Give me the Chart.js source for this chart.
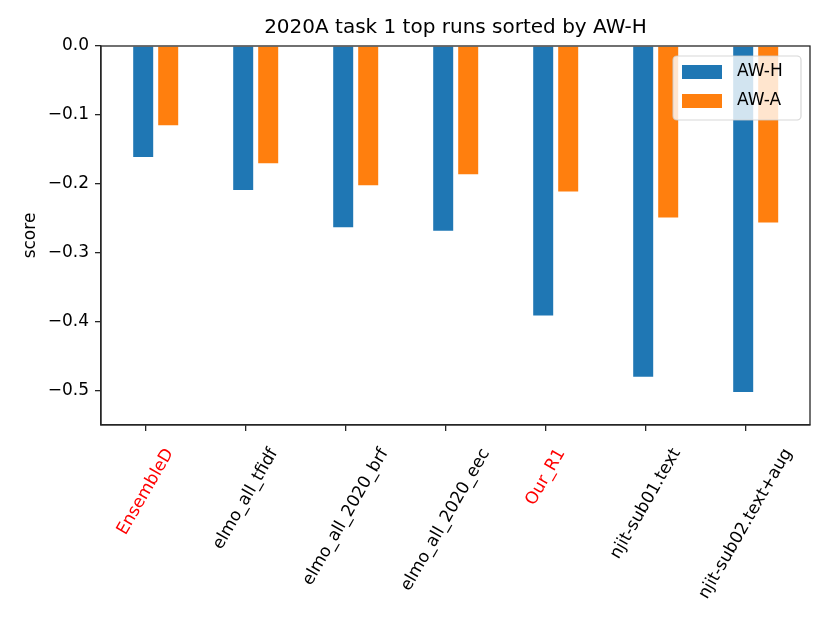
<!DOCTYPE html>
<html>
<head>
<meta charset="utf-8">
<script src="https://cdn.jsdelivr.net/npm/chart.js@4/dist/chart.umd.min.js"></script>
<style>
  body { margin: 0; background: #fff; }
  #wrap { width: 830px; height: 623px; }
</style>
</head>
<body>
<div id="wrap"><canvas id="runsChart" width="830" height="623"></canvas></div>
<script>
// ---------- data ----------
const categories = ['EnsembleD', 'elmo_all_tfidf', 'elmo_all_2020_brf', 'elmo_all_2020_eec',
                    'Our_R1', 'njit-sub01.text', 'njit-sub02.text+aug'];
const awH = [-0.161, -0.209, -0.263, -0.268, -0.391, -0.480, -0.502];
const awA = [-0.115, -0.170, -0.202, -0.186, -0.211, -0.249, -0.256];
const redCats = ['EnsembleD', 'Our_R1'];
const yTicks = [0.0, -0.1, -0.2, -0.3, -0.4, -0.5];
const yMin = -0.55, yMax = 0;
const xMin = -0.447, xMax = 6.643;
const groupShift = 0.1;

const FONT = 'DejaVu Sans';
const BLUE = '#1f77b4', ORANGE = '#ff7f0e';
const AXIS = '#262626';

// ---------- plugins ----------
// title centred over the plot area like matplotlib
const centerTitle = {
  id: 'centerTitle',
  afterLayout(chart) {
    const t = chart.titleBlock, a = chart.chartArea;
    if (!t) return;
    t.left = a.left; t.right = a.right; t.width = a.right - a.left;
  }
};

// top + right spines
const frame = {
  id: 'frame',
  afterDatasetsDraw(chart) {
    const {ctx, chartArea: a} = chart;
    ctx.save();
    ctx.strokeStyle = AXIS;
    ctx.lineWidth = 1.3;
    ctx.strokeRect(a.left, a.top, a.right - a.left, a.bottom - a.top);
    ctx.restore();
  }
};

// legend box in the upper right corner
const boxLegend = {
  id: 'boxLegend',
  afterDraw(chart) {
    const {ctx, chartArea: a} = chart;
    const sets = chart.data.datasets;
    const w = 128, h = 64;
    const x0 = a.right - 9 - w, y0 = a.top + 10;
    ctx.save();
    ctx.beginPath();
    ctx.roundRect(x0, y0, w, h, 4);
    ctx.fillStyle = 'rgba(255,255,255,0.8)';
    ctx.fill();
    ctx.strokeStyle = 'rgba(204,204,204,0.8)';
    ctx.lineWidth = 1.2;
    ctx.stroke();
    ctx.font = '17px "' + FONT + '"';
    ctx.textBaseline = 'middle';
    sets.forEach((ds, i) => {
      const cy = y0 + 16 + i * 29;
      ctx.fillStyle = ds.backgroundColor;
      ctx.fillRect(x0 + 9, cy - 7, 40, 14);
      ctx.fillStyle = '#000';
      ctx.fillText(ds.label, x0 + 64, cy);
    });
    ctx.restore();
  }
};

// ---------- chart ----------
const ctx = document.getElementById('runsChart').getContext('2d');

new Chart(ctx, {
  type: 'bar',
  data: {
    datasets: [
      { label: 'AW-H', data: categories.map((c, i) => ({x: i + groupShift, y: awH[i]})), backgroundColor: BLUE },
      { label: 'AW-A', data: categories.map((c, i) => ({x: i + groupShift, y: awA[i]})), backgroundColor: ORANGE }
    ]
  },
  options: {
    responsive: false,
    animation: false,
    devicePixelRatio: 1,
    categoryPercentage: 0.5,
    barPercentage: 0.8,
    layout: { padding: { left: 0, right: 20, top: 0, bottom: 0 } },
    plugins: {
      legend: { display: false },
      tooltip: { enabled: false },
      title: {
        display: true,
        text: '2020A task 1 top runs sorted by AW-H',
        color: '#000',
        font: { family: FONT, size: 20, weight: 'normal' },
        padding: { top: 16, bottom: 6 }
      }
    },
    scales: {
      x: {
        type: 'linear',
        min: xMin, max: xMax,
        offset: false,
        grid: { display: true, offset: false, drawOnChartArea: false, drawTicks: true, tickLength: 6, color: AXIS, lineWidth: 1.3 },
        border: { display: true, color: AXIS, width: 1.3 },
        ticks: { display: false },
        afterBuildTicks: (axis) => { axis.ticks = categories.map((c, i) => ({value: i})); },
        afterFit: (axis) => { axis.height = 6; }
      },
      xl: {
        type: 'linear',
        position: 'bottom',
        min: xMin, max: xMax,
        offset: false,
        grid: { display: false },
        border: { display: false },
        ticks: {
          autoSkip: false,
          minRotation: 60, maxRotation: 60,
          padding: 6,
          font: { family: FONT, size: 17 },
          color: (c) => redCats.includes(categories[c.index]) ? '#ff0000' : '#000',
          callback: (v, i) => categories[i]
        },
        // matplotlib centres the rotated label box on the tick: shift by a quarter of the text width
        afterBuildTicks: (axis) => {
          const g = axis.ctx;
          g.save();
          g.font = '17px "' + FONT + '"';
          const pxPerUnit = (axis.width || 709) / (xMax - xMin);
          axis.ticks = categories.map((c, i) => ({value: i + g.measureText(c).width / 4 / pxPerUnit}));
          g.restore();
        },
        afterFit: (axis) => { axis.height = 192; }
      },
      y: {
        min: yMin, max: yMax,
        grid: { display: true, drawOnChartArea: false, drawTicks: true, tickLength: 6, color: AXIS, lineWidth: 1.3 },
        border: { display: true, color: AXIS, width: 1.3 },
        ticks: {
          padding: 6,
          color: '#000',
          font: { family: FONT, size: 17 },
          callback: (v) => v.toFixed(1).replace('-', '\u2212')
        },
        afterBuildTicks: (axis) => { axis.ticks = yTicks.map(v => ({value: v})); },
        title: {
          display: true,
          text: 'score',
          color: '#000',
          font: { family: FONT, size: 17 },
          padding: { top: 20, bottom: 0 }
        },
        afterFit: (axis) => { axis.width = 101; }
      }
    }
  },
  plugins: [centerTitle, frame, boxLegend]
});
</script>
</body>
</html>
